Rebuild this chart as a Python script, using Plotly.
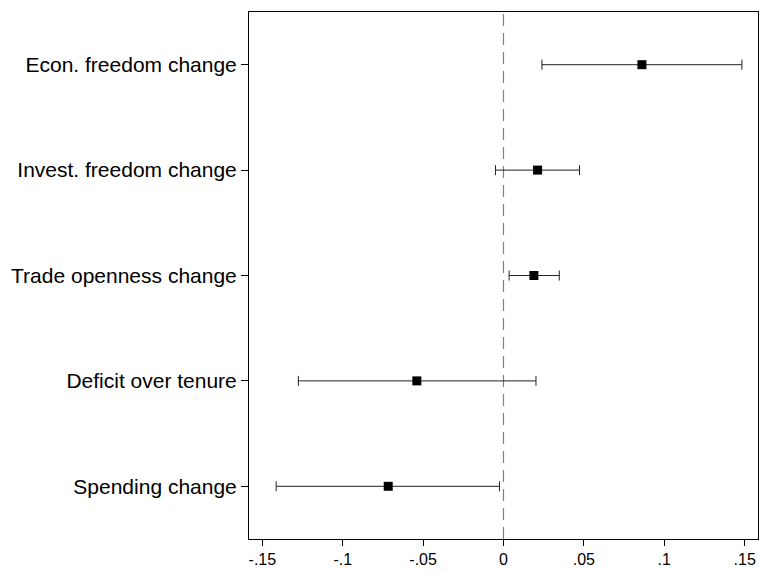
import plotly.graph_objects as go

labels = ["Econ. freedom change", "Invest. freedom change", "Trade openness change",
          "Deficit over tenure", "Spending change"]
estimates = [0.0861, 0.0212, 0.0189, -0.0539, -0.0717]
ci_low = [0.0239, -0.0050, 0.0035, -0.1276, -0.1414]
ci_high = [0.1483, 0.0473, 0.0347, 0.0202, -0.0025]
positions = [5, 4, 3, 2, 1]
x_ticks = [-0.15, -0.1, -0.05, 0, 0.05, 0.1, 0.15]
x_ticktext = ["-.15", "-.1", "-.05", "0", ".05", ".1", ".15"]

plus = [h - e for h, e in zip(ci_high, estimates)]
minus = [e - l for e, l in zip(estimates, ci_low)]

fig = go.Figure()
fig.add_trace(go.Scatter(
    x=estimates, y=positions, mode="markers",
    marker=dict(symbol="square", size=9, color="black"),
    error_x=dict(type="data", symmetric=False, array=plus, arrayminus=minus,
                 color="#222222", thickness=1, width=5),
    showlegend=False,
))

fig.add_shape(type="line", x0=0, x1=0, y0=0, y1=1, xref="x", yref="paper",
              line=dict(color="#808080", width=1.2, dash="12px,7px"), layer="below")

fig.update_layout(
    width=761, height=571,
    margin=dict(l=249, r=3, t=12, b=32, autoexpand=False),
    paper_bgcolor="white", plot_bgcolor="white",
    font=dict(family="Liberation Sans, Arial, Helvetica, sans-serif", color="black"),
    xaxis=dict(range=[-0.1583, 0.1583], tickvals=x_ticks, ticktext=x_ticktext,
               showgrid=False, zeroline=False, showline=True, linecolor="black",
               linewidth=1, mirror=True, ticks="outside", ticklen=6, tickcolor="black",
               tickwidth=1, tickfont=dict(size=16), automargin=False),
    yaxis=dict(range=[0.5, 5.5], tickvals=positions, ticktext=labels,
               showgrid=False, zeroline=False, showline=True, linecolor="black",
               linewidth=1, mirror=True, ticks="outside", ticklen=7, tickcolor="black",
               tickwidth=1, tickfont=dict(size=21), automargin=False),
)

# remove the page's default body margin and scrollbars so the figure fills the window
fig.write_html(
    "out.html",
    config={"displayModeBar": False},
    post_script="document.body.style.margin='0';"
                "document.documentElement.style.overflow='hidden';"
                "document.body.style.overflow='hidden';",
)
